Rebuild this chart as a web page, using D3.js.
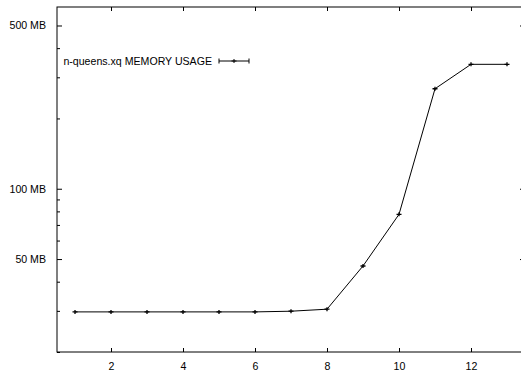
<!DOCTYPE html>
<html>
<head>
<meta charset="utf-8">
<script src="https://cdn.jsdelivr.net/npm/d3@7"></script>
<style>
    body { margin: 0; background: #fff; }
    svg { display: block; }
    svg text { fill: #000; font-family: "Liberation Sans", Arial, sans-serif; font-size: 10.6px; }
</style>
</head>
<body>
<div id="chart"></div>
<script>
const queens = [1, 2, 3, 4, 5, 6, 7, 8, 9, 10, 11, 12, 13]
const memoryMB = [29.7, 29.7, 29.7, 29.7, 29.7, 29.7, 29.9, 30.5, 46.7, 77.7, 268, 341, 341]
const xTicks = [2, 4, 6, 8, 10, 12]
const yMajor = [50, 100, 500]
const yMinor = [20, 30, 40, 60, 70, 80, 90, 200, 300, 400]
const legendLabel = 'n-queens.xq MEMORY USAGE'

drawChart()
function drawChart() {
    const dim = { width: 521, height: 372, left: 57, top: 7, right: 525, bottom: 352 }

    const svg = d3.select('#chart').append('svg')
        .attr('width', dim.width).attr('height', dim.height)

    const xScale = d3.scaleLinear().domain([0.5, 13.5]).range([dim.left, dim.right])
    const yScale = d3.scaleLog().domain([20, 600]).range([dim.bottom, dim.top])

    // frame
    svg.append('rect')
        .attr('x', dim.left).attr('y', dim.top)
        .attr('width', dim.right - dim.left).attr('height', dim.bottom - dim.top)
        .attr('fill', 'none').attr('stroke', '#000').attr('stroke-width', 1)

    const axisGroup = (axis, tx, ty) => {
        const g = svg.append('g').attr('transform', `translate(${tx},${ty})`).call(axis)
        g.attr('font-family', null).attr('font-size', null)
        g.select('.domain').remove()
        return g
    }

    // x ticks, bottom and top mirror
    axisGroup(d3.axisBottom(xScale).tickValues(xTicks).tickSize(-4).tickPadding(10), 0, dim.bottom)
    axisGroup(d3.axisTop(xScale).tickValues(xTicks).tickSize(-4).tickFormat(''), 0, dim.top)

    // y ticks, left and right mirror
    axisGroup(d3.axisLeft(yScale).tickValues(yMajor).tickSize(-5).tickPadding(11)
        .tickFormat(d => d + ' MB'), dim.left, 0)
    axisGroup(d3.axisLeft(yScale).tickValues(yMinor).tickSize(-3).tickFormat(''), dim.left, 0)
    axisGroup(d3.axisRight(yScale).tickValues(yMajor).tickSize(-5).tickFormat(''), dim.right, 0)
    axisGroup(d3.axisRight(yScale).tickValues(yMinor).tickSize(-3).tickFormat(''), dim.right, 0)
    svg.selectAll('.tick line').attr('stroke', '#000')

    // series
    const data = queens.map((q, i) => ({ q, mb: memoryMB[i] }))
    const line = d3.line().x(d => xScale(d.q)).y(d => yScale(d.mb))
    svg.append('path').datum(data)
        .attr('d', line)
        .attr('fill', 'none').attr('stroke', '#000').attr('stroke-width', 1)

    svg.selectAll('.pt').data(data).join('path')
        .attr('class', 'pt')
        .attr('transform', d => `translate(${xScale(d.q)},${yScale(d.mb)})`)
        .attr('d', 'M-2.5,0H2.5M0,-2V2')
        .attr('stroke', '#000').attr('stroke-width', 1.3)

    // legend
    const legY = 61
    const legend = svg.append('g')
    legend.append('text').text(legendLabel)
        .attr('x', 212).attr('y', legY).attr('dy', '0.35em')
        .attr('text-anchor', 'end')
    legend.append('path')
        .attr('d', `M219,${legY}H249M219,${legY - 2.5}V${legY + 2.5}M249,${legY - 2.5}V${legY + 2.5}M${234 - 2.5},${legY}H${234 + 2.5}M234,${legY - 2}V${legY + 2}`)
        .attr('stroke', '#000').attr('stroke-width', 1).attr('fill', 'none')
}
</script>
</body>
</html>
